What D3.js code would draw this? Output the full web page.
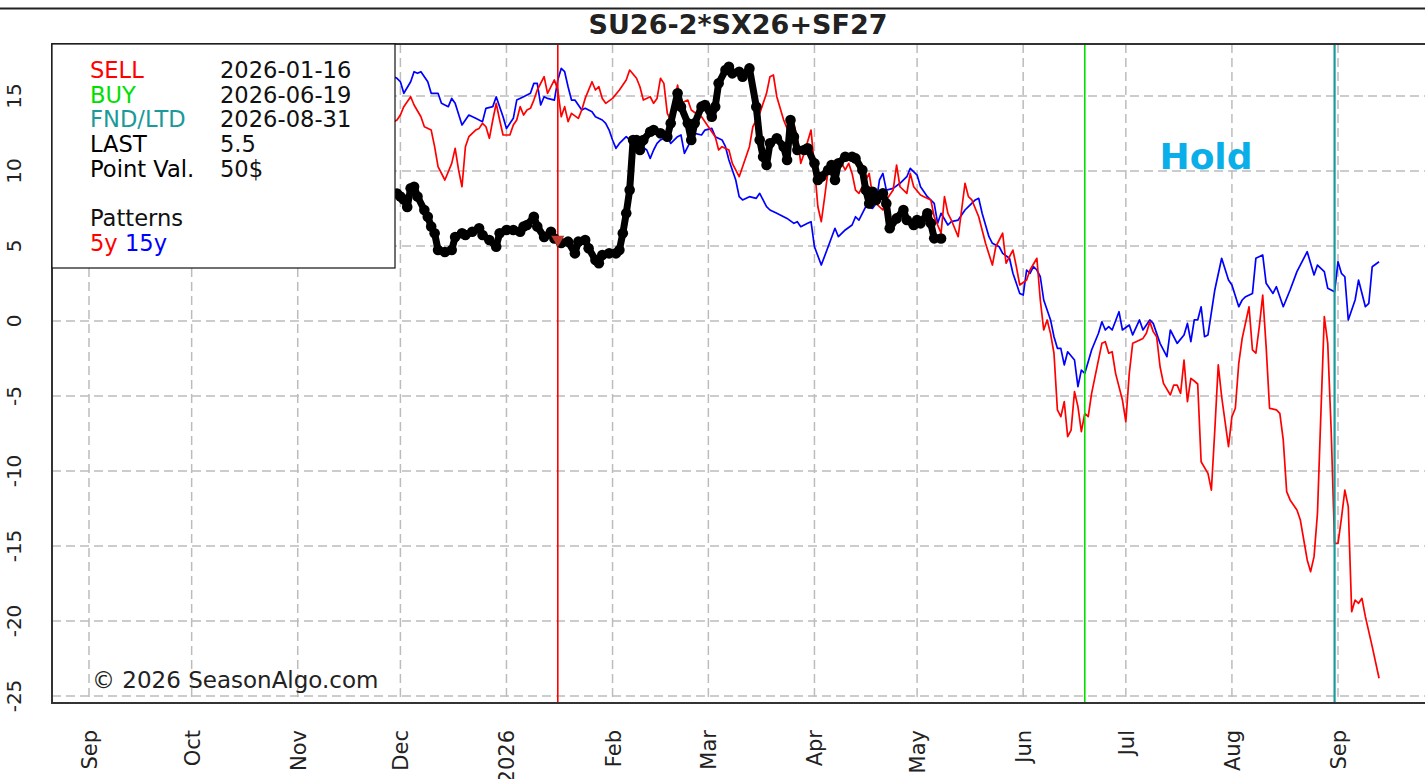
<!DOCTYPE html>
<html><head><meta charset="utf-8">
<script src="https://cdn.jsdelivr.net/npm/d3@7"></script>
<style>body{margin:0;background:#fff;} svg{display:block;font-family:"DejaVu Sans",sans-serif;}</style>
</head><body><svg id="c" width="1425" height="779"></svg>
<script>
// ---------- data ----------
const chartTitle = "SU26-2*SX26+SF27";
const baseDate = "2025-09-01";           // day offsets below are counted from this date
const monthTicks = ["2025-09-01","2025-10-01","2025-11-01","2025-12-01","2026-01-01","2026-02-01","2026-03-01","2026-04-01","2026-05-01","2026-06-01","2026-07-01","2026-08-01","2026-09-01"];
const monthLabels = ["Sep","Oct","Nov","Dec","2026","Feb","Mar","Apr","May","Jun","Jul","Aug","Sep"];
const yTicks = [-25,-20,-15,-10,-5,0,5,10,15];
const sellDate = "2026-01-16", buyDate = "2026-06-19", fndDate = "2026-08-31";
const legendLabels = ["SELL","BUY","FND/LTD","LAST","Point Val."];
const legendValues = ["2026-01-16","2026-06-19","2026-08-31","5.5","50$"];
const patternLabels = ["5y","15y"];
const signalText = "Hold";
const copyright = "\u00A9 2026 SeasonAlgo.com";

// current spread: [day offset, value]
const current = [[87,8.8],[90,8.5],[91,8.3],[92,8.1],[93,7.6],[94,8.85],[95,8.95],[96,8.3],[98,7.4],[99,6.95],[100,6.3],[101,5.85],[102,4.73],[104,4.6],[106,4.73],[107,5.6],[109,5.85],[110,5.73],[112,5.95],[114,6.18],[115,5.73],[117,5.4],[119,4.95],[120,5.85],[122,6.07],[124,6.07],[126,5.95],[127,6.3],[128,6.4],[130,6.95],[131,6.3],[133,5.6],[135,5.95],[136,5.5],[138,5.2],[140,5.29],[142,4.51],[143,5.29],[145,5.4],[146,4.85],[148,4.07],[149,3.85],[150,4.4],[152,4.51],[154,4.51],[155,4.73],[156,5.85],[157,7.18],[158,8.73],[159,12.07],[160,12.07],[161,11.4],[162,12.07],[164,12.62],[165,12.73],[167,12.51],[169,12.29],[170,13.18],[172,15.18],[173,14.29],[175,13.18],[176,12.07],[177,13.18],[179,14.29],[180,14.4],[182,13.62],[183,14.29],[184,15.85],[186,16.73],[187,16.95],[188,16.51],[190,16.62],[191,16.29],[193,16.84],[195,14.29],[196,12.07],[197,10.95],[198,10.4],[199,11.85],[201,12.18],[203,11.62],[204,10.73],[205,13.4],[206,12.29],[207,11.4],[209,11.4],[210,11.51],[212,10.51],[213,9.4],[214,9.62],[216,10.07],[217,10.4],[218,9.4],[219,10.51],[221,10.95],[223,10.95],[224,10.84],[226,10.07],[227,8.73],[228,7.84],[229,8.62],[230,8.07],[232,8.51],[233,7.84],[234,6.18],[236,6.84],[238,7.4],[239,6.73],[241,6.4],[242,6.73],[243,6.51],[245,7.18],[246,6.51],[247,5.51],[249,5.5]];

const pattern5y = [[87,13.0],[90,13.4],[91,13.73],[92,14.29],[94,14.95],[95,14.4],[97,13.62],[98,12.95],[100,12.73],[101,11.62],[102,10.29],[104,9.4],[105,9.95],[106,10.51],[107,11.51],[108,10.07],[109,8.95],[110,11.62],[111,12.29],[113,12.73],[114,12.84],[115,13.18],[116,12.95],[117,12.18],[118,13.4],[119,14.51],[120,13.4],[121,12.4],[123,12.4],[124,13.07],[125,13.4],[126,14.29],[127,13.73],[128,14.07],[129,14.18],[130,14.73],[131,15.4],[133,16.29],[134,15.18],[135,15.62],[136,16.07],[137,15.4],[138,13.62],[139,14.29],[140,13.29],[141,13.84],[143,13.51],[144,14.07],[145,14.84],[147,15.95],[148,15.4],[149,15.62],[150,14.84],[151,14.51],[153,14.84],[155,15.4],[157,16.07],[158,16.73],[160,16.18],[161,15.62],[162,14.73],[164,14.95],[165,14.51],[166,14.84],[167,16.18],[168,15.84],[169,13.84],[170,13.4],[172,15.73],[173,14.51],[175,14.73],[176,14.07],[178,13.73],[179,13.62],[181,12.95],[183,12.29],[184,11.4],[185,11.62],[187,11.4],[188,10.51],[190,9.62],[191,10.29],[193,11.62],[194,12.95],[196,13.84],[198,15.18],[199,16.29],[200,16.4],[201,14.95],[203,13.4],[204,12.84],[206,13.07],[207,12.29],[208,10.51],[209,11.18],[211,12.73],[212,10.29],[213,7.62],[214,6.62],[215,8.29],[216,10.07],[218,10.29],[220,10.51],[221,10.07],[222,10.51],[223,9.84],[224,8.73],[225,8.51],[227,9.4],[228,9.84],[229,8.29],[230,7.84],[232,7.4],[233,8.07],[235,8.73],[236,10.4],[237,8.95],[239,8.51],[240,9.84],[241,8.95],[243,8.4],[244,8.29],[246,8.07],[247,6.95],[249,5.85],[250,8.29],[251,7.18],[252,6.73],[254,5.62],[255,7.4],[256,9.18],[257,8.29],[258,8.07],[260,6.95],[261,6.07],[262,5.18],[264,3.73],[265,4.95],[267,5.85],[268,3.85],[270,4.73],[271,3.62],[272,2.4],[274,2.73],[275,3.4],[277,4.18],[278,1.4],[279,-0.6],[280,0.07],[281,-0.84],[282,-2.15],[283,-5.93],[284,-6.38],[285,-5.38],[286,-7.71],[287,-7.27],[288,-4.71],[289,-5.71],[290,-7.38],[291,-6.16],[292,-6.38],[293,-4.82],[294,-3.71],[296,-1.49],[297,-1.38],[298,-2.15],[299,-2.05],[300,-3.49],[302,-5.27],[303,-6.71],[304,-3.49],[305,-1.49],[306,-1.38],[308,-1.16],[309,-0.82],[310,-0.05],[311,-0.71],[312,-1.05],[313,-3.05],[314,-4.16],[316,-4.93],[317,-4.27],[318,-4.27],[319,-4.82],[320,-2.6],[321,-5.38],[322,-3.82],[323,-4.0],[324,-4.2],[325,-9.38],[327,-10.16],[328,-11.27],[329,-7.27],[330,-2.93],[331,-5.05],[333,-8.38],[334,-6.38],[335,-5.82],[336,-2.82],[337,-1.16],[339,0.95],[340,-1.93],[341,-2.15],[342,-0.38],[343,1.73],[344,-1.71],[345,-5.82],[347,-5.93],[348,-6.16],[349,-7.93],[350,-11.38],[351,-11.93],[353,-12.6],[354,-13.27],[355,-14.6],[356,-15.93],[357,-16.71],[358,-15.71],[359,-12.82],[360,-6.16],[361,0.29],[362,-1.49],[363,-7.27],[364,-14.82],[365,-14.82],[366,-13.16],[367,-11.27],[368,-12.38],[369,-19.38],[370,-18.6],[371,-18.82],[372,-18.49],[373,-19.71],[375,-21.71],[377,-23.82]];

const pattern15y = [[87,16.5],[90,16.18],[91,15.95],[92,15.18],[94,15.95],[95,16.62],[96,16.51],[97,16.62],[99,15.95],[100,15.18],[102,15.18],[103,14.51],[105,14.29],[106,14.84],[107,14.51],[109,13.07],[110,13.4],[111,13.73],[113,13.51],[115,13.29],[116,14.18],[118,14.29],[119,14.95],[121,13.62],[122,12.84],[124,13.51],[125,14.73],[127,14.95],[129,15.18],[130,15.84],[131,15.84],[132,14.4],[133,14.95],[134,14.84],[136,14.73],[137,16.07],[138,16.84],[139,16.62],[140,15.62],[141,14.73],[142,14.73],[144,14.07],[145,14.18],[147,13.95],[148,13.62],[150,13.4],[151,13.18],[152,12.73],[153,12.07],[154,11.51],[155,11.84],[157,12.29],[158,12.07],[160,11.84],[161,11.73],[163,11.4],[164,10.84],[165,11.4],[166,11.84],[167,12.07],[169,12.29],[170,11.84],[172,12.29],[173,12.4],[174,11.18],[176,12.07],[177,12.51],[179,12.4],[180,12.73],[182,12.84],[183,12.29],[185,12.07],[186,11.62],[187,10.73],[189,9.4],[190,8.29],[191,8.07],[193,8.29],[195,8.18],[196,8.51],[198,7.62],[199,7.4],[201,7.18],[202,7.07],[204,6.84],[206,6.51],[207,6.62],[208,6.29],[210,6.51],[211,6.62],[212,4.95],[214,3.73],[216,4.95],[218,6.18],[219,5.62],[221,6.07],[223,6.4],[224,6.95],[225,6.73],[227,7.62],[229,7.51],[230,7.84],[231,9.4],[232,9.84],[233,8.73],[235,8.84],[237,9.18],[239,9.62],[240,10.18],[242,9.73],[243,8.95],[245,8.29],[247,7.84],[248,6.51],[249,7.18],[251,6.4],[252,6.62],[254,6.73],[256,7.4],[257,7.62],[259,8.07],[260,8.18],[261,7.18],[263,5.62],[264,5.18],[266,4.95],[267,4.51],[269,4.18],[270,3.18],[272,1.84],[273,1.73],[274,3.4],[275,3.18],[276,3.62],[277,3.4],[278,2.95],[279,1.4],[281,0.07],[282,-1.05],[283,-1.82],[284,-1.82],[285,-2.93],[286,-2.05],[288,-2.6],[289,-4.38],[290,-3.27],[291,-3.49],[292,-2.71],[293,-1.93],[295,-0.82],[296,-0.05],[297,-0.6],[298,-0.38],[299,-0.6],[301,0.62],[302,-0.6],[304,-0.27],[305,-0.93],[307,0.07],[308,-0.6],[310,0.07],[311,-0.16],[313,-1.49],[315,-2.38],[316,-0.6],[318,-1.49],[320,-0.93],[321,-0.16],[322,-1.38],[323,0.07],[324,0.07],[325,0.95],[326,-1.05],[327,-0.93],[329,2.07],[331,4.18],[333,2.73],[334,2.4],[336,0.95],[337,1.4],[338,1.62],[340,1.84],[341,4.18],[343,4.4],[344,2.51],[346,1.84],[347,2.29],[349,0.95],[351,2.07],[353,3.29],[356,4.62],[358,3.07],[359,3.73],[361,3.29],[362,2.18],[364,1.95],[365,3.95],[366,3.18],[367,2.95],[368,0.07],[370,1.4],[371,2.73],[373,0.95],[374,1.18],[375,3.62],[377,3.95]];

// ---------- layout ----------
const W = 1425, H = 779;
const plot = {left: 52, right: 1445, top: 44, bottom: 703};
const FONT = '"DejaVu Sans", sans-serif';
const base = new Date(baseDate + "T00:00:00Z");
const toDate = d => new Date(base.getTime() + d * 864e5);
const parse = s => new Date(s + "T00:00:00Z");

const x = d3.scaleUtc().domain([parse(monthTicks[0]), parse(monthTicks[monthTicks.length-1])]).range([89, 1338]);
const y = d3.scaleLinear().domain([-25, 15]).range([696, 96]);

const svg = d3.select("#c").style("font-family", FONT);
svg.append("rect").attr("width", W).attr("height", H).attr("fill", "#fff");

// top frame line
svg.append("line").attr("x1", 0).attr("x2", W).attr("y1", 8.5).attr("y2", 8.5)
  .attr("stroke", "#222").attr("stroke-width", 2);

svg.append("defs").append("clipPath").attr("id", "clip")
  .append("rect").attr("x", plot.left).attr("y", plot.top)
  .attr("width", plot.right - plot.left).attr("height", plot.bottom - plot.top);

const grid = svg.append("g").attr("stroke", "#bcbcbc").attr("stroke-width", 1.5).attr("stroke-dasharray", "9,5");
grid.selectAll("line.v").data(monthTicks).join("line").attr("class", "v")
  .attr("x1", d => x(parse(d))).attr("x2", d => x(parse(d)))
  .attr("y1", plot.top).attr("y2", plot.bottom);
grid.selectAll("line.h").data(yTicks).join("line").attr("class", "h")
  .attr("x1", plot.left).attr("x2", plot.right)
  .attr("y1", d => y(d)).attr("y2", d => y(d));

const g = svg.append("g").attr("clip-path", "url(#clip)");
const line = d3.line().x(d => x(toDate(d[0]))).y(d => y(d[1]));

g.append("path").datum(pattern15y).attr("d", line).attr("fill", "none")
  .attr("stroke", "#0000ff").attr("stroke-width", 1.7).attr("stroke-linejoin", "round");
g.append("path").datum(pattern5y).attr("d", line).attr("fill", "none")
  .attr("stroke", "#ff0000").attr("stroke-width", 1.7).attr("stroke-linejoin", "round");

// vertical event lines
const events = [[sellDate, "#ff0000", 1.6], [buyDate, "#00e000", 1.6], [fndDate, "#1a9a9a", 2.2]];
g.selectAll("line.ev").data(events).join("line").attr("class", "ev")
  .attr("x1", d => x(parse(d[0]))).attr("x2", d => x(parse(d[0])))
  .attr("y1", plot.top).attr("y2", plot.bottom)
  .attr("stroke", d => d[1]).attr("stroke-width", d => d[2]);

// current series
g.append("path").datum(current).attr("d", line).attr("fill", "none")
  .attr("stroke", "#000").attr("stroke-width", 7).attr("stroke-linejoin", "round");
g.selectAll("circle.cur").data(current).join("circle").attr("class", "cur")
  .attr("cx", d => x(toDate(d[0]))).attr("cy", d => y(d[1])).attr("r", 5.3).attr("fill", "#000");

// sell marker
const sellD = (parse(sellDate) - base) / 864e5;
const near = current.reduce((a, b) => Math.abs(b[0] - sellD) < Math.abs(a[0] - sellD) ? b : a);
g.append("path").attr("d", d3.symbol().type(d3.symbolTriangle).size(75)())
  .attr("transform", `translate(${x(parse(sellDate))},${y(near[1]) + 1}) rotate(180)`)
  .attr("fill", "#c0392e");

// plot border
svg.append("path")
  .attr("d", `M${plot.right},${plot.top}H${plot.left}V${plot.bottom}H${plot.right}`)
  .attr("fill", "none").attr("stroke", "#333").attr("stroke-width", 2);

// legend box
svg.append("rect").attr("x", plot.left).attr("y", plot.top).attr("width", 343).attr("height", 224)
  .attr("fill", "#fff").attr("stroke", "#111").attr("stroke-width", 1.2);
const legColors = ["#ff0000", "#00e000", "#1a9a9a", "#000", "#000"];
const lg = svg.append("g").attr("font-size", 22.6);
legendLabels.forEach((t, i) => {
  lg.append("text").attr("x", 90).attr("y", 78 + i * 24.7).attr("fill", legColors[i]).text(t);
  lg.append("text").attr("x", 220).attr("y", 78 + i * 24.7).attr("fill", "#111").text(legendValues[i]);
});
lg.append("text").attr("x", 90).attr("y", 78 + 6 * 24.7).attr("fill", "#111").text("Patterns");
const pt = lg.append("text").attr("x", 90).attr("y", 78 + 7 * 24.7);
pt.append("tspan").attr("fill", "#ff0000").text(patternLabels[0]);
pt.append("tspan").attr("fill", "#0000ff").text(" " + patternLabels[1]);

// Hold
svg.append("text").attr("x", 1206).attr("y", 169).attr("text-anchor", "middle")
  .attr("font-size", 36).attr("font-weight", "bold").attr("fill", "#0aaee8").text(signalText);

// copyright
svg.append("text").attr("x", 92).attr("y", 688).attr("font-size", 23).attr("fill", "#222").text(copyright);

// y tick labels
svg.append("g").selectAll("text").data(yTicks).join("text")
  .attr("transform", d => `translate(21,${y(d)}) rotate(-90)`)
  .attr("text-anchor", "middle").attr("font-size", 20).attr("fill", "#222")
  .text(d => d);

// x tick labels
svg.append("g").selectAll("text").data(monthTicks).join("text")
  .attr("transform", d => `translate(${x(parse(d)) + 8},730) rotate(-90)`)
  .attr("text-anchor", "end").attr("font-size", 21).attr("fill", "#222")
  .text((d, i) => monthLabels[i]);

// title
svg.append("text").attr("x", 738).attr("y", 34).attr("text-anchor", "middle")
  .attr("font-size", 27).attr("font-weight", "bold").attr("fill", "#222").text(chartTitle);
</script></body></html>
